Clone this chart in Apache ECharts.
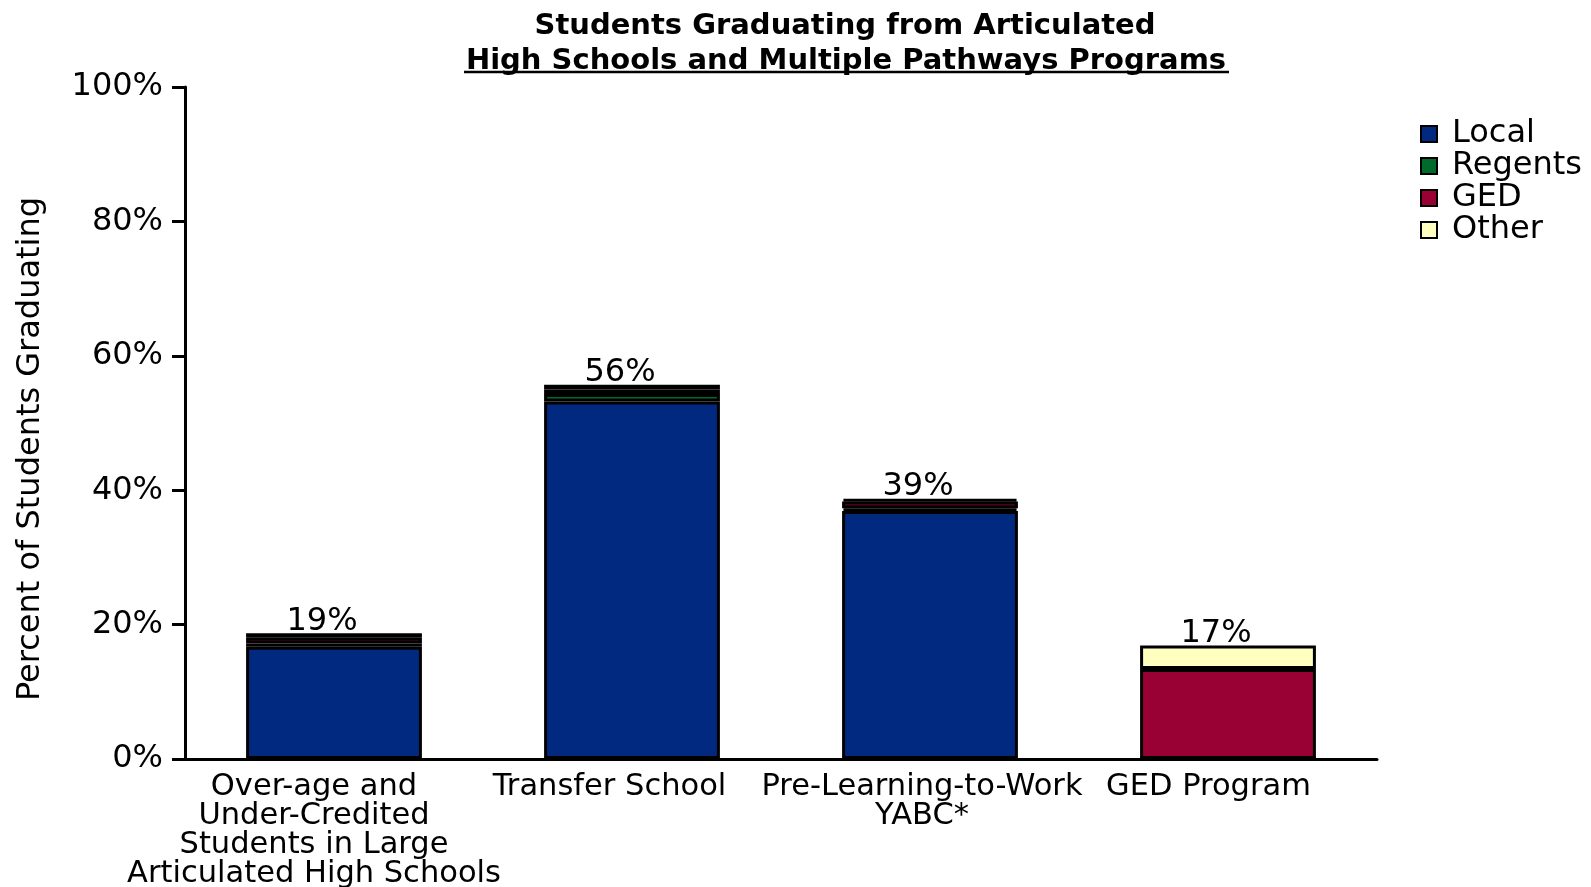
<!DOCTYPE html>
<html><head><meta charset="utf-8">
<script src="https://cdn.jsdelivr.net/npm/echarts@6/dist/echarts.min.js"></script>
<style>html,body{margin:0;padding:0;background:#fff}#c{width:1591px;height:887px}</style>
</head><body><div id="c"></div>
<script>
const categories = ['Over-age and\nUnder-Credited\nStudents in Large\nArticulated High Schools', 'Transfer School', 'Pre-Learning-to-Work\nYABC*', 'GED Program'];
const localVals   = [16.7, 53.2, 36.9, 0];
const regentsVals = [0.5, 1.1, 0.4, 0];
const gedVals     = [0.9, 0.7, 1.0, 13.4];
const otherVals   = [0.6, 0.7, 0.4, 3.5];
const totalLabels = ['19%', '56%', '39%', '17%'];
const yTicks = [0, 20, 40, 60, 80, 100];

const FONT = 'DejaVu Sans';
// horizontal nudges of the category labels (px, right padding)
const labelShift = [40, 45, 16, 39];
const chart = echarts.init(document.getElementById('c'));
const seriesDefs = [
  ['Local', localVals, '#00297f'],
  ['Regents', regentsVals, '#006a2a'],
  ['GED', gedVals, '#990033'],
  ['Other', otherVals, '#ffffc0']
];
chart.setOption({
  animation: false,
  textStyle: { fontFamily: FONT, color: '#000' },
  title: [
    { text: 'Students Graduating from Articulated', left: 840, top: 7, textAlign: 'center',
      textStyle: { fontFamily: FONT, fontSize: 29, fontWeight: 'bold', color: '#000' } },
    { text: 'High Schools and Multiple Pathways Programs', left: 841, top: 42, textAlign: 'center',
      textStyle: { fontFamily: FONT, fontSize: 29, fontWeight: 'bold', color: '#000' } }
  ],
  graphic: [
    { type: 'line', shape: { x1: 464, y1: 72, x2: 1229, y2: 72 }, style: { stroke: '#000', lineWidth: 2.5 } },
    { type: 'text', x: 31, y: 449, rotation: Math.PI / 2,
      style: { text: 'Percent of Students Graduating', fontFamily: FONT, fontSize: 32, fill: '#000',
        align: 'center', verticalAlign: 'middle' } }
  ],
  legend: {
    orient: 'vertical', left: 1415, top: 113, itemWidth: 16, itemHeight: 16, itemGap: 0,
    icon: 'rect',
    textStyle: { fontFamily: FONT, fontSize: 32, color: '#000', lineHeight: 32, padding: [0, 0, 0, 10] },
    itemStyle: { borderColor: '#000', borderWidth: 2 }
  },
  grid: { left: 185, right: 214, top: 87, bottom: 128, containLabel: false, outerBoundsMode: 'none' },
  xAxis: {
    type: 'category',
    data: categories.map((c, i) => ({ value: c, textStyle: { padding: [0, labelShift[i], 0, 0] } })),
    axisLine: { lineStyle: { color: '#000', width: 3 } },
    axisTick: { show: false },
    axisLabel: { fontFamily: FONT, fontSize: 30.5, color: '#000', lineHeight: 29, margin: 14, interval: 0 }
  },
  yAxis: {
    type: 'value', min: 0, max: 100, interval: 20,
    axisLine: { show: true, lineStyle: { color: '#000', width: 3 } },
    axisTick: { show: true, length: 13, lineStyle: { color: '#000', width: 3 } },
    splitLine: { show: false },
    axisLabel: { fontFamily: FONT, fontSize: 32, color: '#000', margin: 22,
      formatter: v => yTicks.includes(v) ? v + '%' : '' }
  },
  series: seriesDefs.map(([name, vals, color], i) => ({
    name, type: 'bar', stack: 'total', data: vals, barWidth: '59%',
    itemStyle: { color, borderColor: '#000', borderWidth: 3 },
    label: i === 3 ? {
      show: true, position: 'top', distance: -4, offset: [-12, 0],
      fontFamily: FONT, fontSize: 32, color: '#000',
      formatter: p => totalLabels[p.dataIndex]
    } : { show: false }
  }))
});
</script></body></html>
